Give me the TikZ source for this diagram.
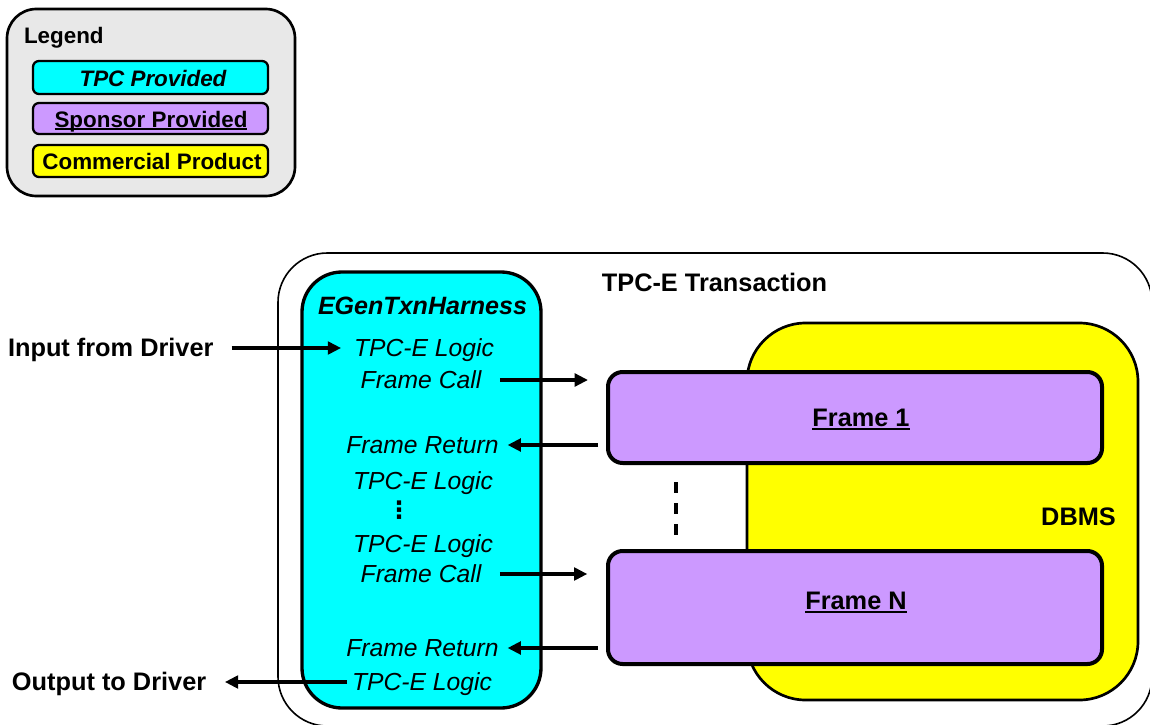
\documentclass[tikz,border=0pt]{standalone}
\usepackage{fontspec}
\setmainfont{Liberation Sans}
\newfontfamily\symfont{DejaVu Sans}
\usetikzlibrary{arrows.meta,calc}
\definecolor{tpccyan}{RGB}{0,255,255}
\definecolor{sponsorpurple}{RGB}{204,153,255}
\definecolor{commyellow}{RGB}{255,255,0}
\definecolor{leggray}{RGB}{232,232,232}
\newcommand\myul[1]{\setbox0\hbox{#1}\rlap{\rule[-2.4pt]{\wd0}{1.5pt}}\box0}
\begin{document}
\begin{tikzpicture}[x=0.75pt,y=-0.75pt,
  box/.style={draw, inner sep=0pt, outer sep=0pt},
  big/.style={inner sep=0pt, outer sep=0pt, text height=13.2pt, text depth=0pt},
  bigit/.style={big, font=\fontsize{18.5}{21}\selectfont\itshape},
  bigbf/.style={big, font=\fontsize{19}{22}\selectfont\bfseries},
  bigbfit/.style={big, font=\fontsize{18.8}{22}\selectfont\bfseries\itshape},
  small/.style={inner sep=0pt, outer sep=0pt, font=\fontsize{16.8}{19}\selectfont\bfseries, text height=12pt, text depth=0pt},
  arr/.style={line width=2.5pt, -{Triangle[length=10pt,width=9.5pt]}},
  dashline/.style={line width=2.6pt, dash pattern=on 8.25pt off 7.5pt}
]
\useasboundingbox (0,0) rectangle (1150,725);
\clip (0,0) rectangle (1150,725);

% Legend
\node[box, fill=leggray, line width=2pt, rounded corners=22pt, minimum width=216pt, minimum height=140.25pt] (legend) at (151,102.5) {};
\node[small, anchor=west] (legTitle) at (24,35) {Legend};
\node[box, fill=tpccyan, line width=1.7pt, rounded corners=4.5pt, minimum width=176.25pt, minimum height=24.75pt] (legTPC) at (150.5,77.5) {};
\node[small, font=\fontsize{16.8}{19}\selectfont\bfseries\itshape] (legTPCt) at (153,78) {TPC Provided};
\node[box, fill=sponsorpurple, line width=1.7pt, rounded corners=4.5pt, minimum width=176.25pt, minimum height=23.25pt] (legSponsor) at (150.5,118.5) {};
\node[small] (legSponsort) at (151,119) {\myul{Sponsor Provided}};
\node[box, fill=commyellow, line width=1.7pt, rounded corners=4.5pt, minimum width=176.25pt, minimum height=24pt] (legComm) at (150.5,161) {};
\node[small] (legCommt) at (152,161) {Commercial Product};

% Outer transaction box
\node[box, line width=1.2pt, rounded corners=37pt, minimum width=655.5pt, minimum height=354.75pt] (outer) at (715,489.5) {};
\node[bigbf] (outerTitle) at (714.5,283) {TPC-E Transaction};

% DBMS
\node[box, fill=commyellow, line width=2pt, rounded corners=44pt, minimum width=293.25pt, minimum height=282.75pt] (dbms) at (942.5,511.5) {};
\node[bigbf] (dbmsLabel) at (1078.5,517) {DBMS};

% Frames
\node[box, fill=sponsorpurple, line width=3pt, rounded corners=11pt, minimum width=370.5pt, minimum height=68.25pt] (frame1) at (855,417.5) {};
\node[bigbf] (frame1Label) at (861,418) {\myul{Frame 1}};
\node[box, fill=sponsorpurple, line width=3pt, rounded corners=11pt, minimum width=370.5pt, minimum height=84.75pt] (frameN) at (855,607.5) {};
\node[bigbf] (frameNLabel) at (856,601) {\myul{Frame N}};

% Harness
\node[box, fill=tpccyan, line width=2.5pt, rounded corners=30pt, minimum width=179.25pt, minimum height=327pt] (harness) at (421.5,490) {};
\node[bigbfit] (harnessTitle) at (422.5,306) {EGenTxnHarness};
\node[bigit] (logic1) at (424,348) {TPC-E Logic};
\node[bigit] (call1) at (421,380) {Frame Call};
\node[bigit] (ret1) at (422.5,445) {Frame Return};
\node[bigit] (logic2) at (423,481) {TPC-E Logic};
\node[inner sep=0pt, font=\symfont\bfseries\fontsize{18}{20}\selectfont] (dots) at (399,510) {⋮};
\node[bigit] (logic3) at (423,544) {TPC-E Logic};
\node[bigit] (call2) at (421,574) {Frame Call};
\node[bigit] (ret2) at (422.5,648) {Frame Return};
\node[bigit] (logic4) at (422,682) {TPC-E Logic};

% Driver texts
\node[bigbf, anchor=west] (input) at (8,348) {Input from Driver};
\node[bigbf, anchor=west] (output) at (12,682) {Output to Driver};

% Connectors
\draw[arr, shorten <=13.5pt, shorten >=9.75pt] (input.east) -- (logic1.west);
\draw[arr, shorten <=14pt, shorten >=15pt] (call1.east) -- (call1.east -| frame1.west);
\draw[arr, shorten <=7.5pt, shorten >=6.75pt] (ret1.east -| frame1.west) -- (ret1.east);
\draw[arr, shorten <=14pt, shorten >=15.5pt] (call2.east) -- (call2.east -| frameN.west);
\draw[arr, shorten <=7.5pt, shorten >=6.75pt] (ret2.east -| frameN.west) -- (ret2.east);
\draw[arr, shorten <=3.75pt, shorten >=14pt] (logic4.west) -- (output.east);

\coordinate (dashTop) at (676,482);
\coordinate (dashBot) at (676,537);
\draw[dashline] (dashTop) -- (dashBot);
\end{tikzpicture}
\end{document}
